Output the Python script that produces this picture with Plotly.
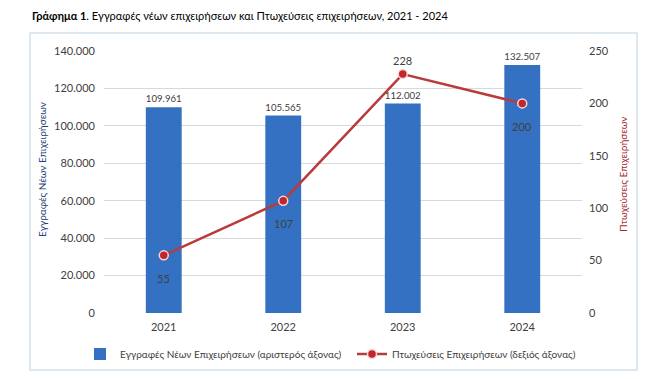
import plotly.graph_objects as go

years = ["2021", "2022", "2023", "2024"]
registrations = [109961, 105565, 112002, 132507]
bankruptcies = [55, 107, 228, 200]
bank_label_shift = [-23, -23, 14, -23]

left_ticks = [0, 20000, 40000, 60000, 80000, 100000, 120000, 140000]
right_ticks = [0, 50, 100, 150, 200, 250]

FONT = "Lato, 'Open Sans', sans-serif"
OFF = 8  # default page body margin
W, H = 658 - OFF, 379 - OFF
L, T = 104 - OFF, 51 - OFF
R = W - (582 - OFF)
B = H - (313 - OFF)
pw = W - L - R
ph = H - T - B

def px(x):
    return (x - OFF - L) / pw

def py(y):
    return (H - B - (y - OFF)) / ph

fig = go.Figure()
fig.add_trace(go.Bar(
    x=years, y=registrations, name="Εγγραφές Νέων Επιχειρήσεων (αριστερός άξονας)",
    marker=dict(color="#3471c2", line=dict(width=0)), width=0.3,
    text=registrations, texttemplate="%{y:,d}", textposition="outside",
    textfont=dict(size=11, color="#404040", family=FONT), cliponaxis=False,
    yaxis="y", legend="legend",
))
fig.add_trace(go.Scatter(
    x=years, y=bankruptcies, name="Πτωχεύσεις Επιχειρήσεων (δεξιός άξονας)",
    mode="lines+markers",
    line=dict(color="#b83b3d", width=2.5),
    marker=dict(color="#c0262a", size=9, line=dict(color="#f6d5d8", width=1.5)),
    cliponaxis=False,
    yaxis="y2", legend="legend2",
))

for i, (v, s) in enumerate(zip(bankruptcies, bank_label_shift)):
    fig.add_annotation(x=i, y=v, xref="x", yref="y2", text=str(v), showarrow=False,
                       yshift=s, font=dict(size=11, color="#404040", family=FONT))

legend_common = dict(orientation="h", xref="container", yref="container",
                     y=(H - (354 - OFF)) / H, yanchor="middle",
                     font=dict(size=10, color="#404040", family=FONT),
                     bgcolor="rgba(0,0,0,0)")

fig.update_layout(
    width=W, height=H,
    margin=dict(l=L, r=R, t=T, b=B, autoexpand=False),
    paper_bgcolor="white", plot_bgcolor="white",
    separators=",.",
    font=dict(family=FONT, size=11, color="#404040"),
    xaxis=dict(type="category", categoryorder="array", categoryarray=years,
               range=[-0.5, len(years) - 0.5],
               showgrid=False, showline=False, ticks="", ticklabelstandoff=6,
               tickfont=dict(size=11, color="#404040")),
    yaxis=dict(range=[0, 140000], tickvals=left_ticks, tickformat=",d",
               showgrid=True, gridcolor="#d9d9d9", gridwidth=1, zeroline=False,
               showline=False, ticks="", ticklabelstandoff=8,
               tickfont=dict(size=11, color="#404040")),
    yaxis2=dict(range=[0, 250], tickvals=right_ticks, overlaying="y", side="right",
                showgrid=False, zeroline=False, showline=False, ticks="",
                ticklabelstandoff=6, tickfont=dict(size=11, color="#404040")),
    legend=dict(x=(80 - OFF) / W, xanchor="left", **legend_common),
    legend2=dict(x=(352 - OFF) / W, xanchor="left", **legend_common),
    showlegend=True,
)

fig.add_shape(type="rect", xref="paper", yref="paper",
              x0=px(30), x1=px(637), y0=py(370), y1=py(33),
              line=dict(color="#d5dfea", width=1.5), fillcolor="rgba(0,0,0,0)", layer="below")

fig.add_annotation(text="<b>Γράφημα 1</b>. Εγγραφές νέων επιχειρήσεων και Πτωχεύσεις επιχειρήσεων, 2021 - 2024",
                   xref="paper", yref="paper", x=px(30), y=py(16), xanchor="left", yanchor="middle",
                   showarrow=False, font=dict(size=11, color="#000000", family=FONT))
fig.add_annotation(text="Εγγραφές Νέων Επιχειρήσεων", textangle=-90,
                   xref="paper", yref="paper", x=px(42), y=py(170), xanchor="center", yanchor="middle",
                   showarrow=False, font=dict(size=10, color="#1f3f7a", family=FONT))
fig.add_annotation(text="Πτωχεύσεις Επιχειρήσεων", textangle=-90,
                   xref="paper", yref="paper", x=px(623), y=py(175), xanchor="center", yanchor="middle",
                   showarrow=False, font=dict(size=10, color="#a32a2e", family=FONT))

fig.write_html("out.html")
